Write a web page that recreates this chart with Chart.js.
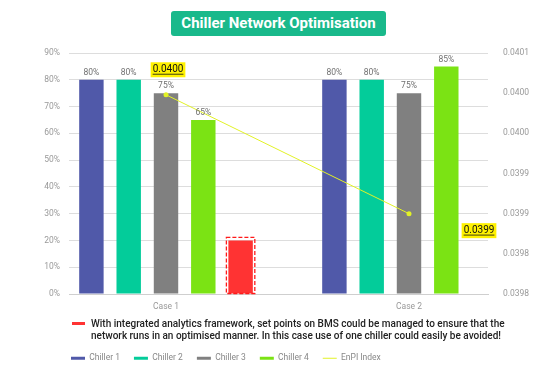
<!DOCTYPE html>
<html>
<head>
<meta charset="utf-8">
<script src="https://cdn.jsdelivr.net/npm/chart.js@4.4.1/dist/chart.umd.min.js"></script>
<style>
  html, body { margin: 0; padding: 0; background: #fff; }
  #wrap { position: relative; width: 556px; height: 371px; }
  #chart { position: absolute; left: 0; top: 0; }
  #title {
    position: absolute; left: 171px; top: 11px; width: 215px; height: 25px;
    background: #19b98b; border-radius: 3px; color: #fff;
    font: bold 15px Roboto, sans-serif; line-height: 25px; text-align: center;
  }
  #note {
    position: absolute; left: 72px; top: 318px; width: 450px;
    font: 500 10px Roboto, sans-serif; color: #222; line-height: 12px;
    padding-left: 19px; box-sizing: border-box;
  }
  #note span {
    position: absolute; left: 0; top: 4px; width: 13px; height: 3px; background: #ff3333;
  }
</style>
</head>
<body>
<div id="wrap">
  <canvas id="chart" width="556" height="371"></canvas>
  <div id="title">Chiller Network Optimisation</div>
  <div id="note"><span></span></div>
</div>
<script>
var categories = ['Case 1', 'Case 2'];
var chiller1 = [80, 80];
var chiller2 = [80, 80];
var chiller3 = [75, 75];
var chiller4 = [65, 85];
var avoidable = [20, null];
var enpiIndex = [0.040048, 0.0399];
var rightTickLabels = ['0.0398', '0.0398', '0.0399', '0.0399', '0.0400', '0.0400', '0.0401'];
var noteText = 'With integrated analytics framework, set points on BMS could be managed to ensure that the network runs in an optimised manner. In this case use of one chiller could easily be avoided!';

document.getElementById('note').appendChild(document.createTextNode(noteText));

function points(values) {
  return values.map(function (v, i) { return { x: i + 1, y: v }; });
}

// offsets of the EnPI value boxes from their points
var enpiLabelOffsets = [{ dx: 2, dy: -25 }, { dx: 70, dy: 17 }];

var labelsPlugin = {
  id: 'labels',
  afterLayout: function (chart) {
    // legend starts under the plot, not at the canvas edge
    chart.legend.left = 57;
    chart.legend.top += 1.5;
  },
  afterDatasetsDraw: function (chart) {
    var ctx = chart.ctx;
    ctx.save();
    chart.data.datasets.forEach(function (ds, di) {
      var meta = chart.getDatasetMeta(di);
      if (meta.hidden) return;
      if (ds.type === 'line') {
        ctx.font = '10px Roboto';
        ctx.textAlign = 'center';
        ctx.textBaseline = 'middle';
        meta.data.forEach(function (pt, i) {
          var txt = ds.data[i].y.toFixed(4);
          var off = enpiLabelOffsets[i];
          var cx = pt.x + off.dx, cy = pt.y + off.dy;
          var w = ctx.measureText(txt).width + 4;
          ctx.fillStyle = '#fff200';
          ctx.fillRect(cx - w / 2, cy - 7.5, w, 15);
          ctx.fillStyle = '#111';
          ctx.fillText(txt, cx, cy);
          ctx.fillRect(cx - w / 2 + 2, cy + 4, w - 4, 0.8);
        });
      } else if (ds.showValue) {
        ctx.font = '8.5px Roboto';
        ctx.textAlign = 'center';
        ctx.textBaseline = 'middle';
        ctx.fillStyle = '#707070';
        meta.data.forEach(function (bar, i) {
          if (ds.data[i].y == null) return;
          ctx.fillText(ds.data[i].y + '%', bar.x, bar.y - 7);
        });
      } else if (ds.dashed) {
        ctx.strokeStyle = '#ff1a1a';
        ctx.lineWidth = 1.3;
        ctx.setLineDash([4, 2]);
        meta.data.forEach(function (bar, i) {
          if (ds.data[i].y == null) return;
          var half = bar.width / 2;
          ctx.strokeRect(bar.x - half - 2, bar.y - 3, bar.width + 4, bar.base - bar.y + 3);
        });
        ctx.setLineDash([]);
      }
    });
    ctx.restore();
  }
};

Chart.defaults.font.family = 'Roboto';

new Chart(document.getElementById('chart'), {
  type: 'bar',
  data: {
    datasets: [
      { label: 'Chiller 1', data: points(chiller1), backgroundColor: '#5059a9', showValue: true, yAxisID: 'y' },
      { label: 'Chiller 2', data: points(chiller2), backgroundColor: '#03cc9a', showValue: true, yAxisID: 'y' },
      { label: 'Chiller 3', data: points(chiller3), backgroundColor: '#808080', showValue: true, yAxisID: 'y' },
      { label: 'Chiller 4', data: points(chiller4), backgroundColor: '#7be314', showValue: true, yAxisID: 'y' },
      { label: noteText, data: points(avoidable), backgroundColor: '#ff3333', dashed: true, yAxisID: 'y' },
      {
        type: 'line', label: 'EnPI Index', data: points(enpiIndex), yAxisID: 'y2',
        borderColor: '#e2f226', backgroundColor: '#e2f226', borderWidth: 1,
        pointRadius: 2.5, pointBorderWidth: 0, order: -1
      }
    ]
  },
  options: {
    responsive: false,
    animation: false,
    categoryPercentage: 0.7675,
    barPercentage: 0.655,
    layout: { padding: { top: 53, left: 0, right: 0, bottom: 0 } },
    plugins: {
      tooltip: { enabled: false },
      legend: {
        position: 'bottom',
        align: 'start',
        labels: {
          usePointStyle: true,
          pointStyle: 'line',
          pointStyleWidth: 14,
          padding: 14,
          color: '#888',
          font: { size: 8.5 },
          filter: function (item) { return item.datasetIndex !== 4; },
          sort: function (a, b) { return a.datasetIndex - b.datasetIndex; },
          generateLabels: function (chart) {
            var items = Chart.defaults.plugins.legend.labels.generateLabels(chart);
            items.forEach(function (it) {
              var ds = chart.data.datasets[it.datasetIndex];
              it.strokeStyle = ds.type === 'line' ? ds.borderColor : ds.backgroundColor;
              it.lineWidth = ds.type === 'line' ? 1 : 3;
            });
            return items;
          }
        }
      }
    },
    scales: {
      x: {
        type: 'linear',
        offset: false,
        bounds: 'data',
        min: 0.6008,
        max: 2.3251,
        afterBuildTicks: function (scale) {
          scale.ticks = categories.map(function (c, i) { return { value: i + 1 }; });
        },
        afterFit: function (scale) { scale.height = 44.5; },
        grid: { display: false },
        border: { display: true, color: '#cfcfcf' },
        ticks: {
          padding: 0,
          color: '#999',
          font: { size: 8.5 },
          callback: function (v) { return categories[v - 1]; }
        }
      },
      y: {
        position: 'left',
        min: 0,
        max: 90,
        afterFit: function (scale) { scale.width = 69; },
        grid: { color: '#dddddd', drawTicks: false },
        border: { display: false },
        ticks: {
          stepSize: 10,
          padding: 9,
          color: '#999',
          font: { size: 8.5 },
          callback: function (v) { return v + '%'; }
        }
      },
      y2: {
        position: 'right',
        min: 0.0398,
        max: 0.0401,
        afterFit: function (scale) { scale.width = 68; },
        grid: { display: false, drawTicks: false },
        border: { display: false },
        ticks: {
          stepSize: 0.00005,
          padding: 15,
          color: '#999',
          font: { size: 8.5 },
          callback: function (v, i) { return rightTickLabels[i]; }
        }
      }
    }
  },
  plugins: [labelsPlugin]
});
</script>
</body>
</html>
